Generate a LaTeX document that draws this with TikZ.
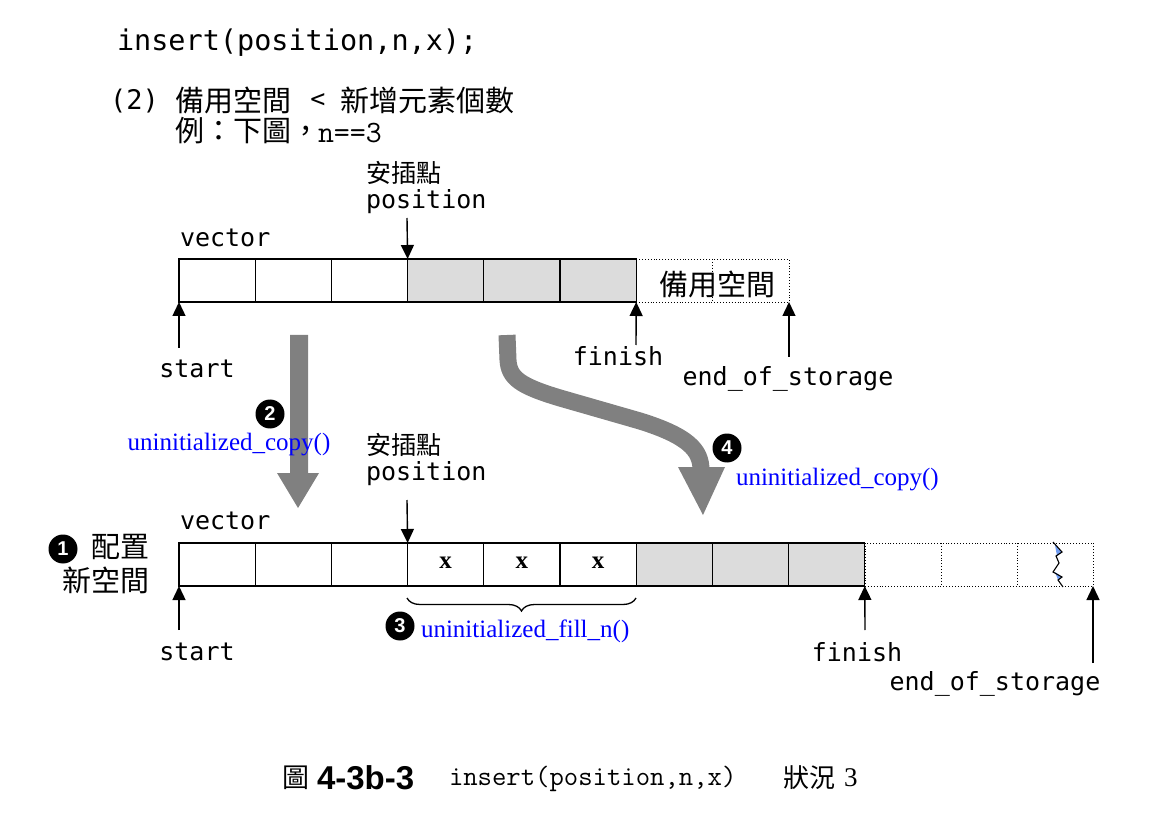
\documentclass[tikz,border=0pt]{standalone}
\usepackage{fontspec}
\setmainfont{Liberation Serif}
\newfontfamily\cjk{Noto Sans CJK TC}
\newfontfamily\vmono{DejaVu Sans Mono}
\newfontfamily\cmono{Latin Modern Mono}
\newfontfamily\asans{Liberation Sans}
\usetikzlibrary{arrows.meta,decorations.pathreplacing,calc}
\newcommand\setfs[1]{\fontsize{#1}{#1}\selectfont}
\definecolor{cellgray}{HTML}{DCDCDC}
\definecolor{arrgray}{HTML}{808080}
\definecolor{zigblue}{HTML}{6F9BF0}
\begin{document}
\begin{tikzpicture}[x=1pt,y=-1pt,
  txt/.style={inner sep=0pt, outer sep=0pt},
  monolbl/.style={txt, font=\vmono\setfs{25}},
  cjklbl/.style={txt, font=\cjk\setfs{25}},
  bluelbl/.style={txt, font=\setfs{25}, text=blue},
  cell/.style={draw, line width=1.3pt, minimum width=76.2pt, minimum height=43pt, inner sep=0pt, outer sep=0pt},
  graycell/.style={cell, fill=cellgray},
  spare/.style={draw, dotted, line width=0.9pt, minimum height=43pt, inner sep=0pt, outer sep=0pt},
  ptr/.style={line width=1.4pt, -{Triangle[width=13pt,length=14pt]}},
  badge/.style={circle, fill=black, minimum size=29pt, inner sep=0pt, text=white, font=\asans\bfseries\setfs{20}},
  bigarrow/.style={fill=arrgray, draw=none},
]
\useasboundingbox (0,0) rectangle (1160,818);

% ---- header text
\node[txt, anchor=west, font=\vmono\setfs{28.5}] (title) at (117,43) {insert(position,n,x);};
\node[txt, anchor=west, font=\vmono\setfs{27}] (case) at (110,101) {(2)};
\node[txt, anchor=west, font=\cjk\setfs{29}] (cond1) at (175,100) {備用空間};
\node[txt, font=\vmono\setfs{25}] (lt) at (318,101) {<};
\node[txt, anchor=west, font=\cjk\setfs{29}] (cond2) at (340,100) {新增元素個數};
\node[txt, anchor=west, font=\cjk\setfs{29}] (ex) at (175,131) {例：下圖，};
\node[txt, anchor=west, font=\cmono\setfs{31}] (nval) at (318,133) {n==3};

% ---- top vector
\foreach \i in {1,2,3} {
  \node[cell] (t\i) at ({179+76.2*(\i-0.5)},280.5) {};
}
\foreach \i in {4,5,6} {
  \node[graycell] (t\i) at ({179+76.2*(\i-0.5)},280.5) {};
}
\node[spare, minimum width=153pt, anchor=west] (tspare) at (636,280.5) {};
\draw[dotted, line width=0.9pt] (712.5,259) -- (712.5,302);
\node[txt, font=\cjk\setfs{29}] (tsparelbl) at (717,284) {備用空間};

\node[monolbl, anchor=west] (tvec) at (180,238) {vector};
\node[cjklbl, anchor=west] (tins) at (366,173) {安插點};
\node[monolbl, anchor=west] (tpos) at (366,202) {position};
\coordinate (tposA) at (407,218);
\draw[ptr] (tposA) -- (t4.north west);

\node[monolbl] (tstart) at (197,369) {start};
\coordinate (tstartA) at (179,348);
\draw[ptr] (tstartA) -- (t1.south west);
\node[monolbl] (tfinish) at (618,356) {finish};
\coordinate (tfinishA) at (636,345);
\draw[ptr] (tfinishA) -- (t6.south east);
\node[monolbl] (teos) at (788,379) {end\_of\_storage};
\coordinate (teosA) at (789,357);
\draw[ptr] (teosA) -- (tspare.south east);

% ---- big arrow 2
\fill[bigarrow] (290,335) -- (308,335) -- (308,473) -- (319,473) -- (298,508) -- (277,473) -- (290,473) -- cycle;
\node[badge] (b2) at (270,414) {2};
\node[bluelbl] (copy1) at (229,445) {uninitialized\_copy()};

% ---- big curved arrow 4
\draw[arrgray, line width=17pt, line join=round] (507,335) -- (508,360)
  .. controls (509,378) and (520,386) .. (560,398) -- (640,421)
  .. controls (688,436) and (701,450) .. (701,470);
\fill[bigarrow] (678,467) -- (725,467) -- (703,515) -- cycle;
\node[badge] (b4) at (727,448) {4};
\node[bluelbl, anchor=west] (copy2) at (736,480) {uninitialized\_copy()};

% ---- bottom vector
\foreach \i in {1,...,6} {
  \node[cell] (c\i) at ({179+76.2*(\i-0.5)},564.5) {};
}
\foreach \i in {7,8,9} {
  \node[graycell] (c\i) at ({179+76.2*(\i-0.5)},564.5) {};
}
\node[spare, minimum width=228pt, anchor=west] (cspare) at (865,564.5) {};
\draw[dotted, line width=0.9pt] (941,543) -- (941,586);
\draw[dotted, line width=0.9pt] (1017,543) -- (1017,586);
\foreach \i in {4,5,6} {
  \node[txt, font=\bfseries\setfs{25}] (x\i) at ($(c\i.center)+(0,-2)$) {x};
}
% zigzag break
\fill[zigblue] (1055,545) -- (1062,552) -- (1057,556) -- cycle;
\fill[zigblue] (1055,572) -- (1062,577) -- (1058,580) -- cycle;
\draw[line width=1.1pt, line join=miter] (1053,542) -- (1062,552) -- (1056,556) -- (1059,563) -- (1053,572) -- (1062,577) -- (1058,580) -- (1063,587);

\node[monolbl, anchor=west] (cvec) at (180,521) {vector};
\node[cjklbl, anchor=west] (cins) at (366,445) {安插點};
\node[monolbl, anchor=west] (cpos) at (366,474) {position};
\coordinate (cposA) at (407,500);
\draw[ptr] (cposA) -- (c4.north west);

\node[badge] (b1) at (63,549) {1};
\node[txt, anchor=east, font=\cjk\setfs{29}] (alloc1) at (149,547) {配置};
\node[txt, anchor=east, font=\cjk\setfs{29}] (alloc2) at (149,580) {新空間};

\coordinate (braceL) at (407,598);
\coordinate (braceR) at (636,598);
\draw[line width=1.3pt, decorate, decoration={brace, amplitude=13pt, mirror}] (braceL) -- (braceR);
\node[badge] (b3) at (400,626) {3};
\node[bluelbl, anchor=west] (fill) at (421,631) {uninitialized\_fill\_n()};

\node[monolbl] (cstart) at (197,652) {start};
\coordinate (cstartA) at (179,630);
\draw[ptr] (cstartA) -- (c1.south west);
\node[monolbl] (cfinish) at (857,652) {finish};
\coordinate (cfinishA) at (865,630);
\draw[ptr] (cfinishA) -- (c9.south east);
\node[monolbl] (ceos) at (995,684) {end\_of\_storage};
\coordinate (ceosA) at (1093,663);
\draw[ptr] (ceosA) -- (cspare.south east);

% ---- caption
\node[txt, anchor=west, font=\cjk\setfs{27}] (capfig) at (282,778) {圖};
\node[txt, anchor=west, font=\asans\bfseries\setfs{33}] (capnum) at (317,778) {4-3b-3};
\node[txt, anchor=west, font=\cmono\setfs{27.9}] (capcode) at (449,779) {insert(position,n,x)};
\node[txt, anchor=west, font=\cjk\setfs{26}] (capcase) at (783,778) {狀況};
\node[txt, anchor=west, font=\setfs{27}] (capthree) at (844,778) {3};
\end{tikzpicture}
\end{document}
